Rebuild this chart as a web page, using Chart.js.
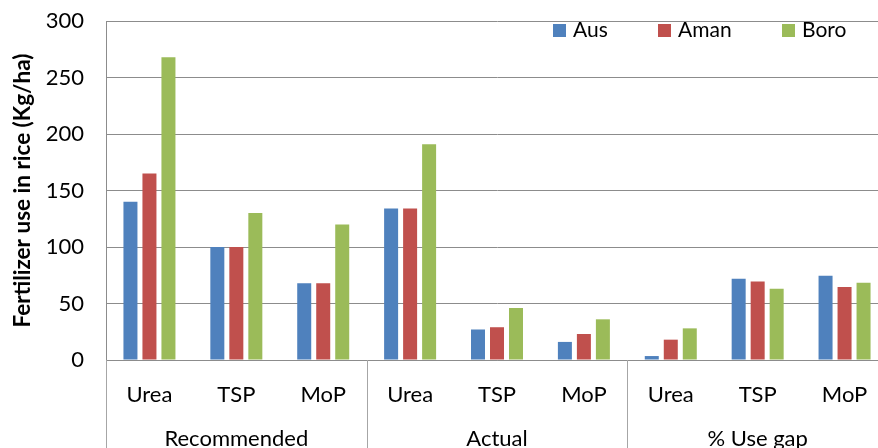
<!DOCTYPE html>
<html><head><meta charset="utf-8">
<script src="https://cdn.jsdelivr.net/npm/chart.js@4.4.1/dist/chart.umd.min.js"></script>
<style>html,body{margin:0;padding:0;background:#fff;overflow:hidden;width:878px;height:448px}
#wrap{position:relative;width:888px;height:448px}</style></head>
<body><div id="wrap"><canvas id="c"></canvas></div>
<script>
const groups = ['Recommended', 'Actual', '% Use gap'];
const categories = ['Urea', 'TSP', 'MoP', 'Urea', 'TSP', 'MoP', 'Urea', 'TSP', 'MoP'];
const seriesNames = ['Aus', 'Aman', 'Boro'];
const aus  = [140, 100, 68, 134, 27, 16, 3.5, 72, 74.5];
const aman = [165, 100, 68, 134, 29, 23, 18, 69.5, 64.5];
const boro = [268, 130, 120, 191, 46, 36, 28, 63, 68.3];
const yMin = 0, yMax = 300, yStep = 50;
const yTitle = 'Fertilizer use in rice (Kg/ha)';
const colors = ['#4F81BD', '#C0504D', '#9BBB59'];

const FONT = 'Lato';
const gridColor = '#8c8c8c';

const separators = {
  id: 'separators',
  afterDraw(chart) {
    const x = chart.scales.x, ctx = chart.ctx;
    const half = (x.getPixelForValue(1) - x.getPixelForValue(0)) / 2;
    ctx.save();
    ctx.strokeStyle = '#a6a6a6';
    ctx.lineWidth = 1;
    for (let g = 0; g <= groups.length; g++) {
      const px = Math.round(x.getPixelForValue(g * 3) - half) + 0.5;
      ctx.beginPath();
      ctx.moveTo(px, chart.chartArea.bottom);
      ctx.lineTo(px, chart.height);
      ctx.stroke();
    }
    ctx.restore();
  }
};

const legendPlugin = {
  id: 'customLegend',
  afterDraw(chart) {
    const ctx = chart.ctx;
    const boxX = [553, 658, 782];
    const y = 30;
    ctx.save();
    ctx.font = '21px ' + FONT;
    ctx.textBaseline = 'middle';
    chart.data.datasets.forEach((ds, i) => {
      ctx.fillStyle = ds.backgroundColor;
      ctx.fillRect(boxX[i], y - 6, 13, 13);
      ctx.fillStyle = '#000';
      ctx.fillText(ds.label, boxX[i] + 20, y);
    });
    ctx.restore();
  }
};

new Chart(document.getElementById('c'), {
  type: 'bar',
  data: {
    labels: categories,
    datasets: [
      { label: seriesNames[0], data: aus, backgroundColor: colors[0] },
      { label: seriesNames[1], data: aman, backgroundColor: colors[1] },
      { label: seriesNames[2], data: boro, backgroundColor: colors[2] }
    ]
  },
  options: {
    responsive: true,
    maintainAspectRatio: false,
    animation: false,
    devicePixelRatio: 1,
    layout: { padding: { left: 0, right: 0, top: 0, bottom: 0 } },
    datasets: { bar: { categoryPercentage: 0.656, barPercentage: 0.737 } },
    plugins: { legend: { display: false }, tooltip: { enabled: false } },
    scales: {
      x: {
        type: 'category',
        position: 'bottom',
        offset: true,
        grid: { display: false },
        border: { display: true, color: gridColor },
        ticks: { color: '#000', font: { family: FONT, size: 22 }, padding: 14, maxRotation: 0, autoSkip: false },
        afterFit(s) { s.height = 48; }
      },
      x2: {
        type: 'category',
        labels: groups,
        position: 'bottom',
        offset: true,
        grid: { display: false },
        border: { display: false },
        ticks: { color: '#000', font: { family: FONT, size: 22 }, padding: 10, maxRotation: 0, autoSkip: false },
        afterFit(s) { s.height = 40; }
      },
      y: {
        min: yMin, max: yMax,
        ticks: { stepSize: yStep, color: '#000', font: { family: FONT, size: 22 }, padding: 22 },
        grid: { color: gridColor, drawTicks: false },
        border: { display: true, color: gridColor },
        title: { display: true, text: yTitle, color: '#000', font: { family: FONT, size: 22.5, weight: 'bold' }, padding: { top: 9, bottom: 0 } },
        afterFit(s) { s.width = 106; s.paddingTop = 21; s.paddingBottom = 0; }
      }
    }
  },
  plugins: [separators, legendPlugin]
});
</script></body></html>
